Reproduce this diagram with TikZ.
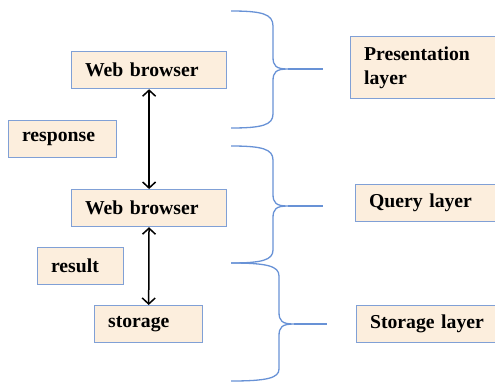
\documentclass[tikz,border=0pt]{standalone}
\usepackage{fontspec}
\setmainfont{Liberation Serif}
\usepackage{tikz}
\usetikzlibrary{arrows.meta}

\definecolor{boxfill}{RGB}{252,238,221}
\definecolor{boxline}{RGB}{128,160,214}
\definecolor{braceline}{RGB}{104,146,214}

\tikzset{
  layerbox/.style={draw=boxline, fill=boxfill, line width=1.2pt,
    inner xsep=13.5pt, inner ysep=0pt, minimum height=37pt,
    anchor=north west, align=left,
    font=\bfseries\fontsize{19.7}{24}\selectfont},
  brace/.style={draw=braceline, line width=1.3pt},
  flow/.style={{Straight Barb[length=6pt,width=13pt]}-{Straight Barb[length=6pt,width=13pt]}, line width=1.5pt}
}

\begin{document}
\begin{tikzpicture}[x=1pt,y=-1pt]

\useasboundingbox (0,0) rectangle (495,383);
\clip (0,0) rectangle (495,383);

% Boxes on the left
\node[layerbox, text width=128pt] (wb1) at (71,51) {Web browser};
\node[layerbox, text width=81pt] (resp) at (8,120) {response};
\node[layerbox, text width=128pt] (wb2) at (71,189) {Web browser};
\node[layerbox, text width=59pt] (res) at (37,247) {result};
\node[layerbox, text width=81pt] (stor) at (94,305) {storage};

% Arrows between them
\draw[flow] (wb1) -- (wb2);
\draw[flow] (wb2) -- (stor);

% Brace of the presentation layer
\draw[brace] (231,11) .. controls (262,11) and (273,14) .. (273,26) -- (273,57)
  .. controls (273,66) and (276,69) .. (288,69)
  .. controls (276,69) and (273,72) .. (273,81) -- (273,114)
  .. controls (273,125) and (262,128) .. (231,128);
\draw[brace] (288,69) -- (323,69);

% Brace of the query layer
\draw[brace] (231,146) .. controls (262,146) and (273,149) .. (273,160) -- (273,194)
  .. controls (273,203) and (276,206) .. (288,206)
  .. controls (276,206) and (273,209) .. (273,218) -- (273,250)
  .. controls (273,260) and (262,263) .. (231,263);
\draw[brace] (288,206) -- (323,206);

% Brace of the storage layer
\draw[brace] (231,263) .. controls (267,263) and (279,266) .. (279,276) -- (279,312)
  .. controls (279,321) and (282,324) .. (294,324)
  .. controls (282,324) and (279,327) .. (279,336) -- (279,369)
  .. controls (279,378) and (267,381) .. (231,381);
\draw[brace] (294,324) -- (327,324);

% Boxes on the right (cut by the page edge)
\node[layerbox, text width=143pt, minimum height=62pt] (pres) at (350,36) {Presentation\\layer};
\node[layerbox, text width=138pt] (query) at (355,184) {Query layer};
\node[layerbox, text width=137pt] (storl) at (356,305) {Storage layer};

\end{tikzpicture}
\end{document}
